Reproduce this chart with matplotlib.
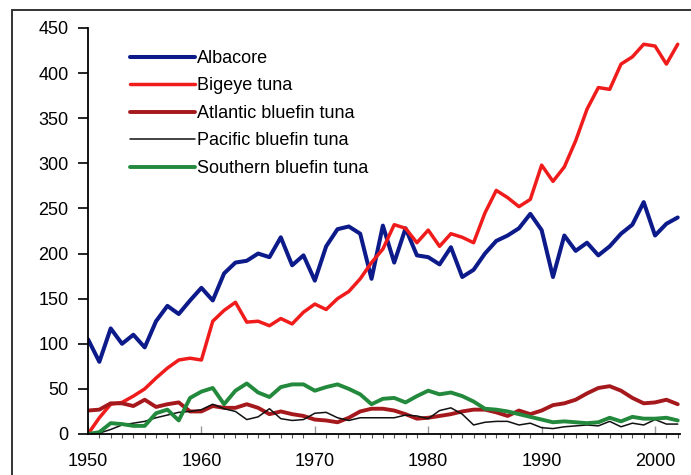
import matplotlib
matplotlib.use("Agg")
import matplotlib.pyplot as plt
from matplotlib.patches import Rectangle
from matplotlib.ticker import MultipleLocator

years = list(range(1950, 2003))

albacore = [105, 80, 117, 100, 110, 96, 125, 142, 133, 148,
            162, 148, 178, 190, 192, 200, 196, 218, 187, 198,
            170, 208, 227, 230, 222, 172, 231, 190, 228, 198,
            196, 188, 207, 174, 182, 200, 214, 220, 228, 244,
            226, 174, 220, 203, 212, 198, 208, 222, 232, 257,
            220, 233, 240]

bigeye = [0, 18, 33, 35, 42, 50, 62, 73, 82, 84,
          82, 125, 137, 146, 124, 125, 120, 128, 122, 135,
          144, 138, 150, 158, 172, 190, 205, 232, 228, 212,
          226, 208, 222, 218, 212, 245, 270, 262, 252, 260,
          298, 280, 296, 325, 360, 384, 382, 410, 418, 432,
          430, 410, 432]

atlantic = [26, 27, 34, 34, 31, 38, 30, 33, 35, 25,
            25, 31, 29, 29, 33, 29, 22, 25, 22, 20,
            16, 15, 13, 18, 25, 28, 28, 26, 22, 17,
            18, 20, 22, 25, 27, 27, 24, 20, 26, 22,
            26, 32, 34, 38, 45, 51, 53, 48, 40, 34,
            35, 38, 33]

pacific = [0, 1, 5, 10, 12, 14, 18, 21, 24, 25,
           27, 33, 28, 25, 16, 19, 28, 17, 15, 16,
           23, 24, 18, 15, 18, 18, 18, 18, 21, 20,
           17, 26, 29, 22, 10, 13, 14, 14, 10, 12,
           7, 6, 8, 9, 10, 9, 14, 8, 12, 10,
           16, 11, 11]

southern = [0, 2, 12, 11, 9, 9, 23, 27, 15, 40,
            47, 51, 33, 48, 56, 46, 41, 52, 55, 55,
            48, 52, 55, 50, 44, 33, 39, 40, 35, 42,
            48, 44, 46, 42, 36, 28, 27, 25, 22, 19,
            16, 13, 14, 13, 12, 13, 18, 14, 19, 17,
            17, 18, 15]

series_names = ["Albacore", "Bigeye tuna", "Atlantic bluefin tuna",
                "Pacific bluefin tuna", "Southern bluefin tuna"]
x_tick_years = [1950, 1960, 1970, 1980, 1990, 2000]
y_ticks = [0, 50, 100, 150, 200, 250, 300, 350, 400, 450]

plt.rcParams['font.family'] = ['Liberation Sans', 'DejaVu Sans']

W, H = 691, 475
fig = plt.figure(figsize=(W / 100, H / 100), dpi=100)
fig.patch.set_facecolor('white')

# outer chart-area border (left and top visible)
fig.patches.append(Rectangle((12 / W, -0.05), 1.2, (475 - 10) / H + 0.05,
                             transform=fig.transFigure, fill=False,
                             edgecolor='#333333', linewidth=1.4))

ax = fig.add_axes([88 / W, 1 - 434 / H, (680 - 88) / W, (434 - 28) / H])

styles = [
    dict(color='#0c1a8a', lw=2.9),
    dict(color='#f01c1c', lw=2.5),
    dict(color='#a5181c', lw=2.8),
    dict(color='#111111', lw=1.1),
    dict(color='#23893c', lw=2.8),
]
data = [albacore, bigeye, atlantic, pacific, southern]
for name, vals, st in zip(series_names, data, styles):
    ax.plot(years, vals, label=name, solid_joinstyle='round',
            solid_capstyle='round', **st)

ax.set_xlim(1950, 2002.2)
ax.set_ylim(0, 450)
ax.set_xticks(x_tick_years)
ax.set_xticklabels([str(y) for y in x_tick_years])
ax.xaxis.set_minor_locator(MultipleLocator(1))
ax.set_yticks(y_ticks)
ax.set_yticklabels([str(v) for v in y_ticks])

for s in ['top', 'right']:
    ax.spines[s].set_visible(False)
for s in ['left', 'bottom']:
    ax.spines[s].set_linewidth(1.3)
    ax.spines[s].set_color('black')

ax.tick_params(axis='y', direction='out', length=7, width=1.2,
               pad=7, labelsize=13)
ax.tick_params(axis='x', which='major', direction='in', length=6,
               width=1.0, color='#999999', pad=14, labelsize=13)
ax.tick_params(axis='x', which='minor', direction='out', length=3,
               width=0.8, color='#555555')

leg = ax.legend(loc='upper left', bbox_to_anchor=(130 / W, 1 - 50 / H),
                bbox_transform=fig.transFigure, frameon=False,
                fontsize=13, handlelength=3.6, handletextpad=0.1,
                labelspacing=0.58, borderpad=0, borderaxespad=0)

fig.savefig('out.png', dpi=100)
